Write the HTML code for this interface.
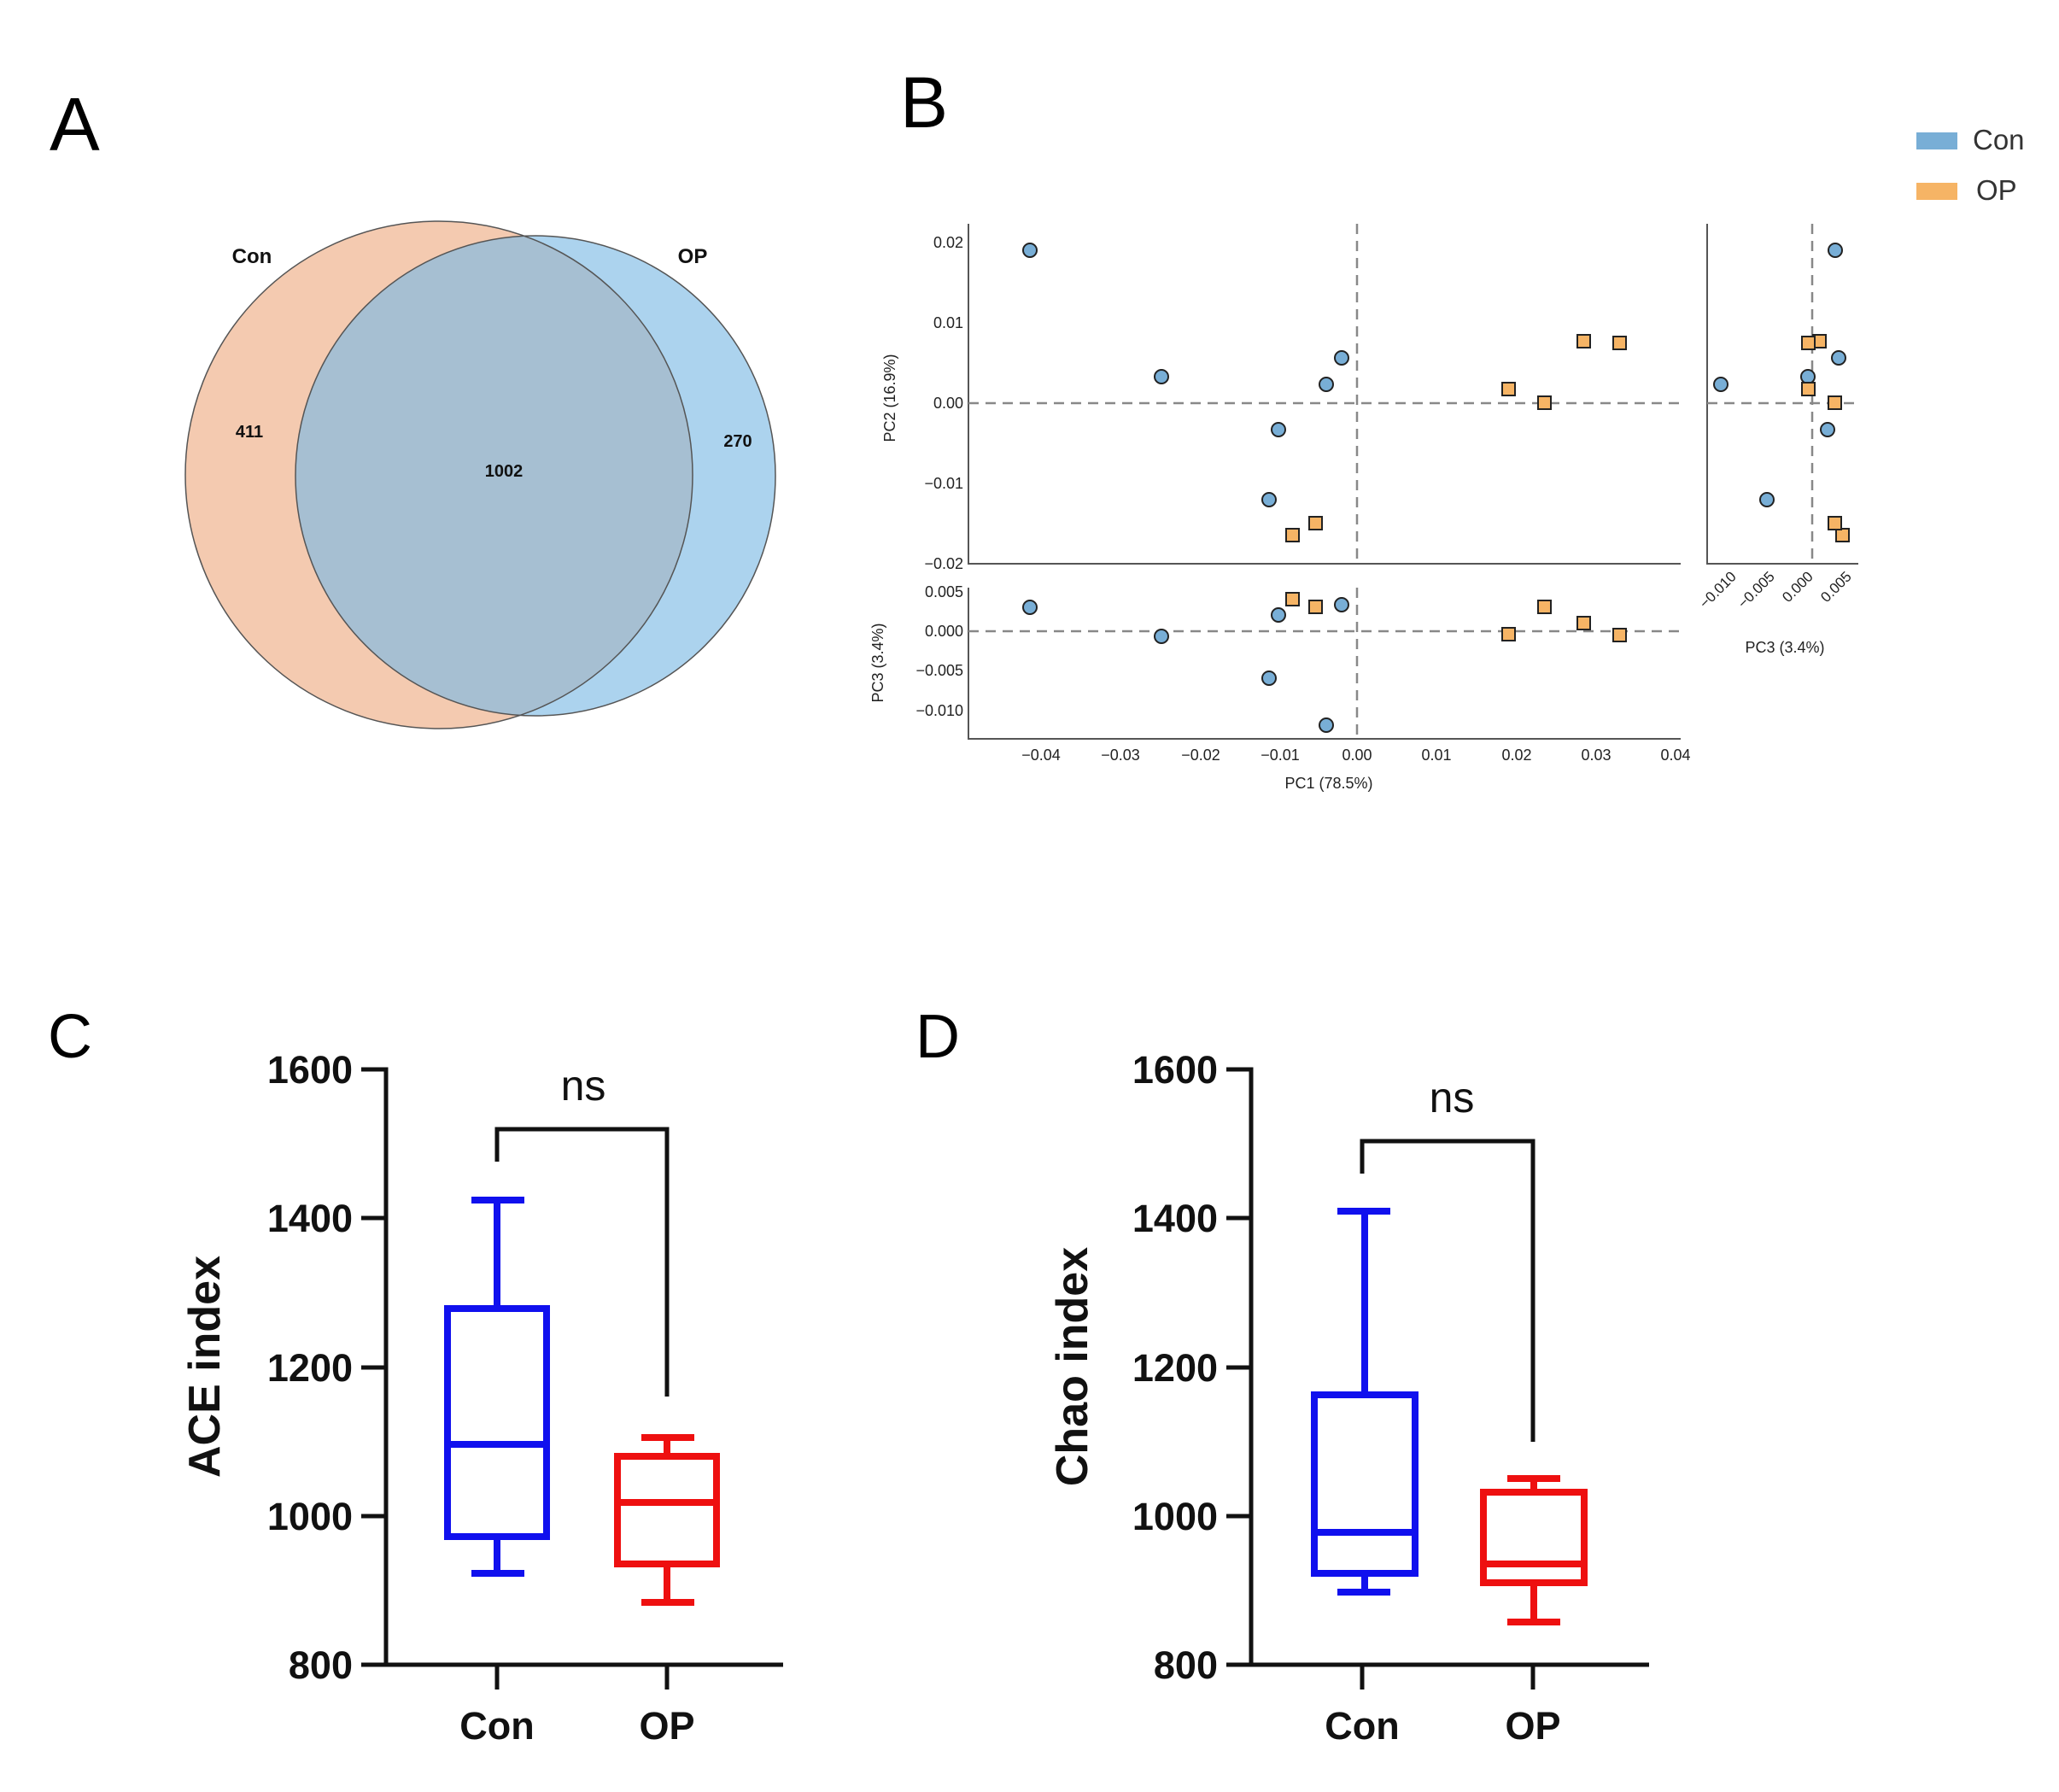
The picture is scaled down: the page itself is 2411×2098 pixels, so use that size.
<!DOCTYPE html>
<html><head><meta charset="utf-8"><style>
html,body{margin:0;padding:0;background:#fff;}
svg{display:block;}
</style></head><body>
<svg width="2411" height="2098" viewBox="0 0 2411 2098" xmlns="http://www.w3.org/2000/svg" font-family="Liberation Sans, sans-serif">
<rect width="2411" height="2098" fill="#fff"/>
<!-- A -->
<text x="58" y="176" font-size="88">A</text>
<circle cx="514" cy="556" r="297" fill="#f4cab0"/>
<circle cx="627" cy="557" r="281" fill="#acd3ee"/>
<clipPath id="cA"><circle cx="514" cy="556" r="297"/></clipPath>
<circle cx="627" cy="557" r="281" fill="#a6bfd2" clip-path="url(#cA)"/>
<circle cx="514" cy="556" r="297" fill="none" stroke="#555" stroke-width="1.5"/>
<circle cx="627" cy="557" r="281" fill="none" stroke="#555" stroke-width="1.5"/>
<g font-weight="bold" font-size="24" text-anchor="middle" fill="#111">
<text x="295" y="308">Con</text><text x="811" y="308">OP</text>
</g>
<g font-weight="bold" font-size="20" text-anchor="middle" fill="#111">
<text x="292" y="512">411</text><text x="590" y="558">1002</text><text x="864" y="523">270</text>
</g>
<!-- B -->
<text x="1054" y="149" font-size="84">B</text>
<rect x="2244" y="155" width="48" height="20" fill="#78aed6"/>
<text x="2310" y="175" font-size="33" fill="#333">Con</text>
<rect x="2244" y="214" width="48" height="20" fill="#f6b465"/>
<text x="2314" y="234" font-size="33" fill="#333">OP</text>
<g stroke="#555" stroke-width="2" fill="none">
<path d="M1134 262 V660 H1968"/>
<path d="M1134 688 V865 H1968"/>
<path d="M1999 262 V660 H2176"/>
</g>
<g stroke="#888" stroke-width="2.5" stroke-dasharray="12,8" fill="none">
<path d="M1134 472 H1968 M1589 262 V660"/>
<path d="M1134 739 H1968 M1589 688 V865"/>
<path d="M1999 472 H2176 M2122 262 V660"/>
</g>
<g font-size="18" fill="#222" text-anchor="end">
<text x="1128" y="290">0.02</text><text x="1128" y="384">0.01</text><text x="1128" y="478">0.00</text><text x="1128" y="572">−0.01</text><text x="1128" y="666">−0.02</text>
<text x="1128" y="699">0.005</text><text x="1128" y="745">0.000</text><text x="1128" y="791">−0.005</text><text x="1128" y="838">−0.010</text>
</g>
<g font-size="18" fill="#222" text-anchor="middle">
<text x="1219" y="890">−0.04</text><text x="1312" y="890">−0.03</text><text x="1406" y="890">−0.02</text><text x="1499" y="890">−0.01</text><text x="1589" y="890">0.00</text><text x="1682" y="890">0.01</text><text x="1776" y="890">0.02</text><text x="1869" y="890">0.03</text><text x="1962" y="890">0.04</text>
<text x="1556" y="923">PC1 (78.5%)</text>
<text x="2090" y="764">PC3 (3.4%)</text>
<text transform="translate(1048,466) rotate(-90)">PC2 (16.9%)</text>
<text transform="translate(1034,776) rotate(-90)">PC3 (3.4%)</text>
</g>
<g font-size="17" fill="#222" text-anchor="end">
<text transform="translate(2034,676) rotate(-45)">−0.010</text>
<text transform="translate(2079,676) rotate(-45)">−0.005</text>
<text transform="translate(2124,676) rotate(-45)">0.000</text>
<text transform="translate(2169,676) rotate(-45)">0.005</text>
</g>
<g stroke="#222" stroke-width="2" fill="#78aed6">
<circle cx="1206" cy="293" r="8"/><circle cx="1360" cy="441" r="8"/><circle cx="1553" cy="450" r="8"/><circle cx="1571" cy="419" r="8"/><circle cx="1497" cy="503" r="8"/><circle cx="1486" cy="585" r="8"/>
<circle cx="1206" cy="711" r="8"/><circle cx="1360" cy="745" r="8"/><circle cx="1497" cy="720" r="8"/><circle cx="1486" cy="794" r="8"/><circle cx="1571" cy="708" r="8"/><circle cx="1553" cy="849" r="8"/>
<circle cx="2149" cy="293" r="8"/><circle cx="2117" cy="441" r="8"/><circle cx="2015" cy="450" r="8"/><circle cx="2153" cy="419" r="8"/><circle cx="2140" cy="503" r="8"/><circle cx="2069" cy="585" r="8"/>
</g>
<g stroke="#222" stroke-width="2" fill="#f6b465">
<rect x="1506" y="619" width="15" height="15"/><rect x="1533" y="605" width="15" height="15"/><rect x="1759" y="448" width="15" height="15"/><rect x="1801" y="464" width="15" height="15"/><rect x="1847" y="392" width="15" height="15"/><rect x="1889" y="394" width="15" height="15"/>
<rect x="1506" y="694" width="15" height="15"/><rect x="1533" y="703" width="15" height="15"/><rect x="1759" y="735" width="15" height="15"/><rect x="1801" y="703" width="15" height="15"/><rect x="1847" y="722" width="15" height="15"/><rect x="1889" y="736" width="15" height="15"/>
<rect x="2150" y="619" width="15" height="15"/><rect x="2141" y="605" width="15" height="15"/><rect x="2110" y="448" width="15" height="15"/><rect x="2141" y="464" width="15" height="15"/><rect x="2123" y="392" width="15" height="15"/><rect x="2110" y="394" width="15" height="15"/>
</g>
<!-- C -->
<text x="56" y="1238" font-size="72">C</text>
<g stroke="#111" stroke-width="5" fill="none">
<path d="M423 1252 H452 V1949 H917"/>
<path d="M423 1426 H452 M423 1601 H452 M423 1775 H452 M423 1949 H452"/>
<path d="M582 1949 V1978 M781 1949 V1978"/>
<path d="M582 1360 V1322 H781 V1635"/>
</g>
<g font-weight="bold" font-size="45" fill="#111" text-anchor="end">
<text x="413" y="1268">1600</text><text x="413" y="1442">1400</text><text x="413" y="1617">1200</text><text x="413" y="1791">1000</text><text x="413" y="1965">800</text>
</g>
<g font-weight="bold" font-size="45" fill="#111" text-anchor="middle">
<text x="582" y="2036">Con</text><text x="781" y="2036">OP</text>
<text transform="translate(257,1600) rotate(-90)" font-size="52">ACE index</text>
</g>
<text x="683" y="1288" font-size="50" text-anchor="middle" fill="#111">ns</text>
<g stroke="#1010ee" stroke-width="8" fill="none">
<rect x="524" y="1532" width="116" height="267"/><path d="M524 1691 H640 M582 1532 V1405 M552 1405 H614 M582 1799 V1842 M552 1842 H614"/>
</g>
<g stroke="#ee1010" stroke-width="8" fill="none">
<rect x="723" y="1705" width="116" height="126"/><path d="M723 1759 H839 M781 1705 V1683 M751 1683 H813 M781 1831 V1876 M751 1876 H813"/>
</g>
<!-- D -->
<text x="1072" y="1238" font-size="72">D</text>
<g stroke="#111" stroke-width="5" fill="none">
<path d="M1436 1252 H1465 V1949 H1931"/>
<path d="M1436 1426 H1465 M1436 1601 H1465 M1436 1775 H1465 M1436 1949 H1465"/>
<path d="M1595 1949 V1978 M1795 1949 V1978"/>
<path d="M1595 1374 V1336 H1795 V1688"/>
</g>
<g font-weight="bold" font-size="45" fill="#111" text-anchor="end">
<text x="1426" y="1268">1600</text><text x="1426" y="1442">1400</text><text x="1426" y="1617">1200</text><text x="1426" y="1791">1000</text><text x="1426" y="1965">800</text>
</g>
<g font-weight="bold" font-size="45" fill="#111" text-anchor="middle">
<text x="1595" y="2036">Con</text><text x="1795" y="2036">OP</text>
<text transform="translate(1273,1600) rotate(-90)" font-size="52">Chao index</text>
</g>
<text x="1700" y="1302" font-size="50" text-anchor="middle" fill="#111">ns</text>
<g stroke="#1010ee" stroke-width="8" fill="none">
<rect x="1539" y="1633" width="118" height="209"/><path d="M1539 1794 H1657 M1598 1633 V1418 M1566 1418 H1628 M1598 1842 V1864 M1566 1864 H1628"/>
</g>
<g stroke="#ee1010" stroke-width="8" fill="none">
<rect x="1737" y="1747" width="118" height="106"/><path d="M1737 1831 H1855 M1796 1747 V1731 M1765 1731 H1827 M1796 1853 V1899 M1765 1899 H1827"/>
</g>
</svg>
</body></html>
